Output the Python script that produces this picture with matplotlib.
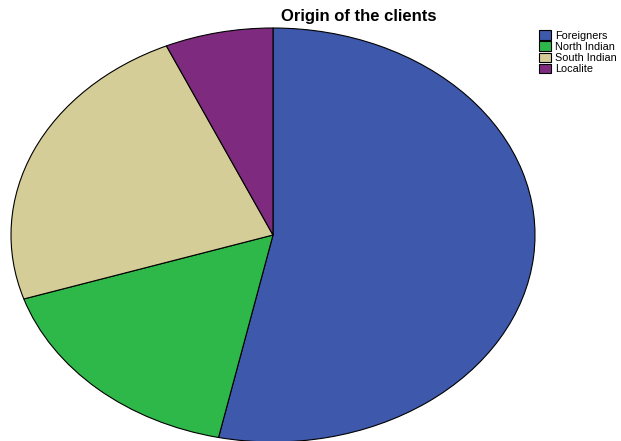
import matplotlib
matplotlib.use("Agg")
import matplotlib.pyplot as plt

# client origin counts
labels = ['Foreigners', 'North Indian', 'South Indian', 'Localite']
counts = [16, 5, 7, 2]
colors = ['#3e58ab', '#2fb84a', '#d4cd98', '#7e2a7e']

fig = plt.figure(figsize=(6.21, 4.41), dpi=100)
ax = fig.add_axes([11 / 621, -1 / 441, 524 / 621, 414 / 441])

wedges, _ = ax.pie(counts, colors=colors, startangle=90, counterclock=False,
                   wedgeprops=dict(edgecolor='black', linewidth=0.8))
ax.set_aspect('auto')
ax.set_xlim(-1, 1)
ax.set_ylim(-1, 1)
ax.axis('off')

fig.text(359 / 621, 1 - 16 / 441, 'Origin of the clients', ha='center', va='center',
         fontsize=12, fontweight='bold', family='Liberation Sans')

fig.legend(wedges, labels, loc='upper left', bbox_to_anchor=(535 / 621, 1 - 26 / 441),
           frameon=False, handlelength=1.1, handleheight=1.0,
           handletextpad=0.35, labelspacing=0.05, borderaxespad=0,
           prop={'family': 'Liberation Sans', 'size': 7.8})

fig.savefig('out.png', dpi=100)
